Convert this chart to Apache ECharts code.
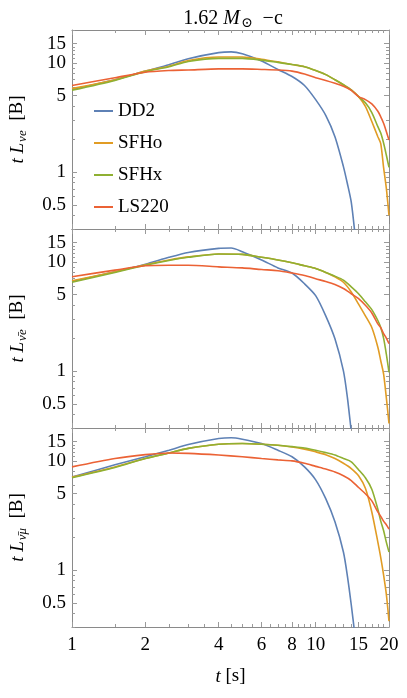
<!DOCTYPE html>
<html>
<head>
<meta charset="utf-8">
<script src="https://cdn.jsdelivr.net/npm/echarts@6/dist/echarts.min.js"></script>
<style>
  html, body { margin: 0; padding: 0; background: #fff; }
  #chart { width: 407px; height: 698px; }
</style>
</head>
<body>
<div id="chart"></div>
<script>
// time samples (s)
const times = [1, 1.5, 2, 2.5, 3, 4, 5, 6, 7, 8, 9, 10, 11, 12, 13, 14, 15, 16, 17, 18, 18.5, 19, 19.5, 20];
const timesDD2 = [1, 1.5, 2, 2.5, 3, 4, 4.5, 5, 6, 7, 8, 9, 10, 11, 12, 13, 13.5, 14, 14.5];

// panel 1: nu_e
const dd2NuE = [5.7, 7.0, 8.4, 9.6, 10.9, 12.4, 12.6, 12.1, 10.4, 8.7, 7.5, 6.2, 4.6, 3.3, 2.1, 1.12, 0.78, 0.53, 0.27];
const sfhoNuE = [5.8, 7.0, 8.4, 9.3, 10.5, 11.3, 11.3, 10.8, 10.2, 9.65, 9.2, 8.5, 7.8, 7.0, 6.3, 5.65, 4.9, 4.0, 2.9, 2.1, 1.82, 1.1, 0.71, 0.40];
const sfhxNuE = [5.6, 6.9, 8.3, 9.2, 10.3, 11.0, 11.0, 10.6, 10.1, 9.65, 9.2, 8.5, 7.8, 7.0, 6.3, 5.65, 4.9, 4.3, 3.5, 2.6, 2.27, 1.84, 1.43, 1.1];
const ls220NuE = [6.2, 7.3, 8.2, 8.5, 8.6, 8.8, 8.8, 8.7, 8.6, 8.4, 7.9, 7.3, 6.9, 6.5, 6.1, 5.6, 4.9, 4.6, 4.2, 3.6, 3.2, 2.8, 2.35, 1.96];

// panel 2: anti nu_e
const dd2NuEBar = [6.6, 8.1, 9.5, 11.0, 12.2, 13.3, 13.4, 12.4, 10.4, 8.8, 7.9, 6.3, 4.9, 3.2, 1.97, 1.0, 0.57, 0.28, 0.15];
const sfhoNuEBar = [6.7, 8.1, 9.4, 10.4, 11.1, 11.8, 11.7, 11.0, 10.4, 9.8, 9.2, 8.7, 8.0, 7.3, 6.5, 5.3, 4.1, 3.2, 2.5, 1.65, 1.24, 0.94, 0.57, 0.33];
const sfhxNuEBar = [6.5, 8.0, 9.3, 10.3, 11.0, 11.8, 11.7, 11.0, 10.4, 9.8, 9.2, 8.7, 8.0, 7.4, 6.8, 5.9, 5.1, 4.3, 3.65, 2.9, 2.5, 2.0, 1.43, 0.97];
const ls220NuEBar = [7.3, 8.4, 9.2, 9.3, 9.3, 9.0, 8.8, 8.5, 8.3, 7.9, 7.5, 7.0, 6.6, 6.2, 5.7, 5.1, 4.6, 4.0, 3.4, 2.7, 2.5, 2.2, 2.0, 1.78];

// panel 3: anti nu_mu
const dd2NuMuBar = [7.1, 9.2, 10.9, 12.5, 14.1, 16.0, 16.3, 15.8, 14.4, 12.5, 10.9, 8.8, 6.7, 4.5, 2.76, 1.46, 0.88, 0.48, 0.25];
const sfhoNuMuBar = [7.1, 8.8, 10.5, 11.8, 13.0, 14.2, 14.4, 14.2, 13.9, 13.4, 12.8, 12.1, 11.4, 10.5, 9.5, 8.5, 7.3, 5.6, 3.4, 1.8, 1.3, 0.9, 0.6, 0.34];
const sfhxNuMuBar = [7.0, 8.7, 10.5, 11.8, 13.0, 14.2, 14.4, 14.2, 13.9, 13.5, 13.1, 12.5, 11.9, 11.3, 10.5, 9.8, 8.3, 7.0, 5.5, 3.6, 2.8, 2.3, 1.8, 1.46];
const ls220NuMuBar = [8.8, 10.5, 11.4, 11.8, 11.7, 11.3, 10.9, 10.5, 10.2, 10.0, 9.5, 8.9, 8.4, 7.9, 7.3, 6.6, 5.7, 5.0, 4.3, 3.4, 3.1, 2.8, 2.6, 2.37];

const eosNames = ["DD2", "SFHo", "SFHx", "LS220"];
const eosColors = ["#5e81b5", "#e19c24", "#8fb032", "#eb6235"];
const panelLabels = ["νe", "ν̄e", "ν̄μ"];

// tick values
const majorX = [1, 2, 4, 6, 8, 10, 15, 20];
const minorX = [1.5, 2.5, 3, 3.5, 4.5, 5, 5.5, 6.5, 7, 7.5, 8.5, 9, 9.5, 11, 12, 13, 14, 16, 17, 18, 19];
const majorY = [0.5, 1, 5, 10, 15];
const minorY = [0.3, 0.4, 0.6, 0.7, 0.8, 0.9, 2, 3, 4, 6, 7, 8, 9, 11, 12, 13, 14, 20];

const panels = [
    [dd2NuE, sfhoNuE, sfhxNuE, ls220NuE],
    [dd2NuEBar, sfhoNuEBar, sfhxNuEBar, ls220NuEBar],
    [dd2NuMuBar, sfhoNuMuBar, sfhxNuMuBar, ls220NuMuBar],
];

const serif = "'Liberation Serif', 'DejaVu Serif', serif";
const frameColor = "#8a8a8a";
const tickColor = "#9a9a9a";
const gridTops = [30, 229, 428];
const gridHeight = 199;

const zip = (xs, ys) => ys.map((y, i) => [xs[i], y]);
const fmt = (v) => String(Math.round(v * 10) / 10);

const grids = [];
const xAxes = [];
const yAxes = [];
const series = [];

panels.forEach((panel, p) => {
    grids.push({ left: 67, right: 18, top: gridTops[p], height: gridHeight });
    const last = p === panels.length - 1;
    ["bottom", "top"].forEach((pos) => {
        [true, false].forEach((major) => {
            const showLabels = major && pos === "bottom" && last;
            xAxes.push({
                gridIndex: p,
                type: "log",
                logBase: 10,
                min: 1,
                max: 20,
                position: pos,
                name: showLabels ? "{it|t} [s]" : "",
                nameLocation: "middle",
                nameGap: 40,
                nameTextStyle: {
                    fontFamily: serif,
                    fontSize: 19,
                    color: "#000",
                    rich: {
                        it: { fontFamily: serif, fontSize: 19, fontStyle: "italic" },
                    },
                },
                axisLine: { show: major, lineStyle: { color: frameColor, width: 1 } },
                axisTick: {
                    show: true,
                    inside: true,
                    length: major ? 5 : 3,
                    customValues: major ? majorX : minorX,
                    lineStyle: { color: tickColor, width: 1 },
                },
                axisLabel: {
                    show: showLabels,
                    customValues: majorX,
                    margin: 9,
                    fontFamily: serif,
                    fontSize: 19,
                    color: "#000",
                    formatter: fmt,
                },
                splitLine: { show: false },
            });
        });
    });
    ["left", "right"].forEach((pos) => {
        [true, false].forEach((major) => {
            const showLabels = major && pos === "left";
            yAxes.push({
                gridIndex: p,
                type: "log",
                logBase: 10,
                min: 0.3,
                max: 20,
                position: pos,
                name: showLabels ? `{it|t L}{sub|${panelLabels[p]}}{n|  [B]}` : "",
                nameLocation: "middle",
                nameGap: 43,
                nameRotate: 90,
                nameTextStyle: {
                    fontFamily: serif,
                    fontSize: 19,
                    color: "#000",
                    rich: {
                        it: { fontFamily: serif, fontSize: 19, fontStyle: "italic" },
                        sub: { fontFamily: serif, fontSize: 13, fontStyle: "italic", padding: [10, 0, 0, 1] },
                        n: { fontFamily: serif, fontSize: 19 },
                    },
                },
                axisLine: { show: major, lineStyle: { color: frameColor, width: 1 } },
                axisTick: {
                    show: true,
                    inside: true,
                    length: major ? 5 : 3,
                    customValues: major ? majorY : minorY,
                    lineStyle: { color: tickColor, width: 1 },
                },
                axisLabel: {
                    show: showLabels,
                    customValues: majorY,
                    margin: 6,
                    fontFamily: serif,
                    fontSize: 19,
                    color: "#000",
                    formatter: fmt,
                },
                splitLine: { show: false },
            });
        });
    });
    panel.forEach((values, k) => {
        series.push({
            name: eosNames[k],
            type: "line",
            xAxisIndex: p * 4,
            yAxisIndex: p * 4,
            data: zip(k === 0 ? timesDD2 : times, values),
            symbol: "none",
            smooth: 0.25,
            clip: true,
            lineStyle: { color: eosColors[k], width: 1.6 },
            itemStyle: { color: eosColors[k] },
            z: 2 + k,
        });
    });
});

const chart = echarts.init(document.getElementById("chart"), null, { renderer: "canvas" });
chart.setOption({
    animation: false,
    backgroundColor: "#fff",
    textStyle: { fontFamily: serif },
    title: {
        text: "{n|1.62 }{it|M}{sub|⊙}{n|  −c}",
        left: 228,
        top: 2,
        textAlign: "center",
        textStyle: {
            fontFamily: serif,
            fontSize: 20,
            fontWeight: "normal",
            color: "#000",
            rich: {
                n: { fontFamily: serif, fontSize: 20 },
                it: { fontFamily: serif, fontSize: 20, fontStyle: "italic" },
                sub: { fontFamily: serif, fontSize: 14, padding: [9, 0, 0, 1] },
            },
        },
    },
    legend: {
        data: eosNames,
        orient: "vertical",
        left: 94,
        top: 101,
        padding: 0,
        icon: "rect",
        itemWidth: 19,
        itemHeight: 2,
        itemGap: 12,
        textStyle: { fontFamily: serif, fontSize: 19, color: "#000", lineHeight: 20 },
    },
    grid: grids,
    xAxis: xAxes,
    yAxis: yAxes,
    series: series,
});
</script>
</body>
</html>
